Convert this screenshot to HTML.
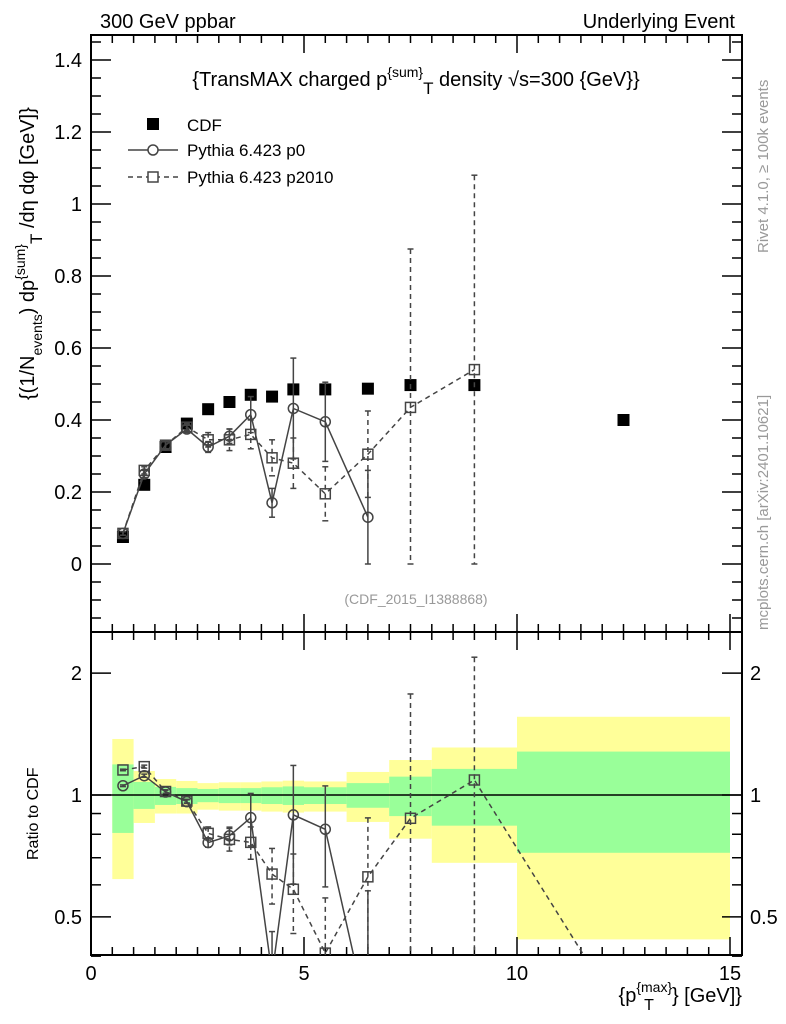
<!DOCTYPE html>
<html><head><meta charset="utf-8"><style>
html,body{margin:0;padding:0;background:#fff;overflow:hidden;width:786px;height:1024px}
svg{display:block;overflow:hidden}
svg text{font-family:"Liberation Sans",sans-serif}
</style></head><body>
<svg id="c" width="786" height="1024" xmlns="http://www.w3.org/2000/svg"></svg>
<script>
const edges=[0.5,1,1.5,2,2.5,3,3.5,4,4.5,5,6,7,8,10,15];
const cdfX=[0.75,1.25,1.75,2.25,2.75,3.25,3.75,4.25,4.75,5.5,6.5,7.5,9,12.5];
const cdfY=[0.075,0.22,0.325,0.39,0.43,0.45,0.47,0.465,0.485,0.485,0.487,0.497,0.497,0.40];
const p0Y=[0.085,0.25,0.33,0.375,0.325,0.355,0.415,0.17,0.432,0.395,0.13];
const p0Err=[0.005,0.01,0.01,0.01,0.015,0.02,0.05,0.04,0.14,0.11,0.13];
const p2Y=[0.085,0.26,0.33,0.38,0.345,0.345,0.36,0.295,0.28,0.195,0.305,0.435,0.54];
const p2Err=[0.005,0.01,0.01,0.01,0.02,0.03,0.04,0.05,0.07,0.075,0.12,0.44,0.54];
const r0=[1.054,1.116,1.017,0.963,0.763,0.793,0.879,0.36,0.893,0.823,0.28];
const r0Err=[0.005,0.01,0.01,0.01,0.02,0.04,0.13,0.1,0.29,0.23,0.3];
const r2=[1.153,1.175,1.02,0.966,0.804,0.777,0.764,0.638,0.585,0.407,0.628,0.876,1.089,0.28];
const r2Err=[0.005,0.01,0.01,0.01,0.03,0.05,0.07,0.1,0.13,0.15,0.25,0.9,1.1,0];
const yelHi=[1.375,1.146,1.095,1.083,1.07,1.075,1.075,1.08,1.085,1.08,1.14,1.22,1.31,1.56];
const yelLo=[0.62,0.853,0.90,0.90,0.92,0.915,0.915,0.91,0.905,0.91,0.858,0.78,0.68,0.44];
const grnHi=[1.19,1.077,1.047,1.04,1.035,1.04,1.04,1.045,1.05,1.045,1.07,1.11,1.16,1.28];
const grnLo=[0.806,0.924,0.945,0.95,0.96,0.955,0.955,0.95,0.945,0.95,0.93,0.887,0.84,0.72];
const mainTicks=[0,0.2,0.4,0.6,0.8,1,1.2,1.4];
const xTicks=[0,5,10,15];
const rTicks=[0.5,1,2];

const S=document.getElementById('c'),NS='http://www.w3.org/2000/svg';
function el(t,a,p){const e=document.createElementNS(NS,t);for(const k in a)e.setAttribute(k,a[k]);(p||S).appendChild(e);return e;}
const L=91,R=742,T=35,M=632,B=955;
const X=v=>L+v*(730-L)/15;
const Y=v=>564-v*360;
const RY=v=>795-Math.log10(v)*405;

const gB=el('g',{});
for(let i=0;i<edges.length-1;i++){
 const r=el('rect',{x:X(edges[i]),y:RY(yelHi[i]),width:X(edges[i+1])-X(edges[i]),height:RY(yelLo[i])-RY(yelHi[i]),fill:'#ffff99'},gB);
 
 const g=el('rect',{x:X(edges[i]),y:RY(grnHi[i]),width:X(edges[i+1])-X(edges[i]),height:RY(grnLo[i])-RY(grnHi[i]),fill:'#99ff99'},gB);
 
}
el('line',{x1:L,x2:R,y1:RY(1),y2:RY(1),stroke:'#000','stroke-width':1.5});

el('rect',{x:L,y:T,width:R-L,height:M-T,fill:'none',stroke:'#000','stroke-width':2});
el('rect',{x:L,y:M,width:R-L,height:B-M,fill:'none',stroke:'#000','stroke-width':2});

function txt(x,y,s,o){const t=el('text',Object.assign({x:x,y:y,'font-size':20},o||{}));t.innerHTML=s;return t;}
for(let v=-0.15;v<=1.46;v+=0.05){const vv=Math.round(v*100)/100;const maj=Math.abs(vv*5-Math.round(vv*5))<1e-6;const len=maj?20:10;
 el('line',{x1:L,x2:L+len,y1:Y(vv),y2:Y(vv),stroke:'#000','stroke-width':1.5});
 el('line',{x1:R,x2:R-len,y1:Y(vv),y2:Y(vv),stroke:'#000','stroke-width':1.5});}
mainTicks.forEach(v=>{const t=txt(82,Y(v)+7,String(v),{'text-anchor':'end'});});
for(let v=0;v<=15.2;v+=0.5){const maj=Math.abs(v%5)<1e-6;const len=maj?18:8;
 el('line',{x1:X(v),x2:X(v),y1:B,y2:B-len,stroke:'#000','stroke-width':1.5});
 el('line',{x1:X(v),x2:X(v),y1:M,y2:M-len,stroke:'#000','stroke-width':1.5});
 el('line',{x1:X(v),x2:X(v),y1:M,y2:M+len,stroke:'#000','stroke-width':1.5});
 el('line',{x1:X(v),x2:X(v),y1:T,y2:T+len,stroke:'#000','stroke-width':1.5});}
xTicks.forEach(v=>{const t=txt(X(v),980,String(v),{'text-anchor':'middle'});});
[0.4,0.5,0.6,0.7,0.8,0.9,1,2].forEach(v=>{const maj=rTicks.includes(v);const len=maj?20:10;
 el('line',{x1:L,x2:L+len,y1:RY(v),y2:RY(v),stroke:'#000','stroke-width':1.5});
 el('line',{x1:R,x2:R-len,y1:RY(v),y2:RY(v),stroke:'#000','stroke-width':1.5});});
rTicks.forEach(v=>{const t=txt(82,RY(v)+7,String(v),{'text-anchor':'end'});
 const t2=txt(750,RY(v)+7,String(v));});

const defs=el('defs',{});
const c1=el('clipPath',{id:'cm'},defs);el('rect',{x:L,y:T,width:R-L,height:M-T},c1);
const c2=el('clipPath',{id:'cr'},defs);el('rect',{x:L,y:M,width:R-L,height:B-M},c2);

function series(xs,ys,errs,yf,clip,dash,marker,name,minLo){
 const g=el('g',{'clip-path':'url(#'+clip+')'});
 const pts=ys.map((v,i)=>X(xs[i])+','+yf(v)).join(' ');
 el('polyline',{points:pts,fill:'none',stroke:'#444','stroke-width':1.5,'stroke-dasharray':dash?'5,4':'none'},g);
 ys.forEach((v,i)=>{const x=X(xs[i]);
  if(errs&&errs[i]>0){const lo=Math.max(v-errs[i],minLo);
   el('line',{x1:x,x2:x,y1:yf(v+errs[i]),y2:yf(lo),stroke:'#444','stroke-width':1.5,'stroke-dasharray':dash?'5,4':'none'},g);
   [yf(v+errs[i]),yf(lo)].forEach(yy=>el('line',{x1:x-3,x2:x+3,y1:yy,y2:yy,stroke:'#444','stroke-width':1.5},g));}
  const m=marker=='o'?el('circle',{cx:x,cy:yf(v),r:5,fill:'none',stroke:'#444','stroke-width':1.5},g):
   el('rect',{x:x-5,y:yf(v)-5,width:10,height:10,fill:'none',stroke:'#444','stroke-width':1.5},g);
  });
}
const gc=el('g',{});
cdfX.forEach((x,i)=>{const r=el('rect',{x:X(x)-6,y:Y(cdfY[i])-6,width:12,height:12,fill:'#000'},gc);});
series(cdfX,p2Y,p2Err,Y,'cm',true,'s','pythia-p2010',0);
series(cdfX,p0Y,p0Err,Y,'cm',false,'o','pythia-p0',0);
series(cdfX,r2,r2Err,RY,'cr',true,'s','ratio-p2010',0.3);
series(cdfX,r0,r0Err,RY,'cr',false,'o','ratio-p0',0.3);

const lg=el('g',{});
el('rect',{x:147,y:118,width:12,height:12,fill:'#000'},lg);
txt(187,131,'CDF',{'font-size':17},lg);
el('line',{x1:128,x2:178,y1:150,y2:150,stroke:'#444','stroke-width':1.5},lg);
el('circle',{cx:153,cy:150,r:5,fill:'#fff',stroke:'#444','stroke-width':1.5},lg);
txt(187,156,'Pythia 6.423 p0',{'font-size':17},lg);
el('line',{x1:128,x2:178,y1:177,y2:177,stroke:'#444','stroke-width':1.5,'stroke-dasharray':'5,4'},lg);
el('rect',{x:148,y:172,width:10,height:10,fill:'#fff',stroke:'#444','stroke-width':1.5},lg);
txt(187,183,'Pythia 6.423 p2010',{'font-size':17},lg);

let t;
t=txt(100,28,'300 GeV ppbar');
t=txt(735,28,'Underlying Event',{'text-anchor':'end'});
t=txt(416,86,'{TransMAX charged p<tspan dy="-9" font-size="14">{sum}</tspan><tspan dy="17" font-size="17">T</tspan><tspan dy="-8"> density √s=300 {GeV}}</tspan>',{'text-anchor':'middle'});
t=txt(416,604,'(CDF_2015_I1388868)',{'text-anchor':'middle','font-size':14,fill:'#999'});
t=txt(0,0,'{(1/N<tspan dy="8" font-size="14">events</tspan><tspan dy="-8">) dp</tspan><tspan dy="-9" font-size="14">{sum}</tspan><tspan dy="17" font-size="17">T</tspan><tspan dy="-8"> /dη  dφ [GeV]}</tspan>',{transform:'translate(34,400) rotate(-90)'});
t=txt(0,0,'Ratio to CDF',{transform:'translate(38,860) rotate(-90)','font-size':16});
t=txt(0,0,'Rivet 4.1.0, ≥ 100k events',{transform:'translate(768,253) rotate(-90)','font-size':15,fill:'#999'});
t=txt(0,0,'mcplots.cern.ch [arXiv:2401.10621]',{transform:'translate(768,630) rotate(-90)','font-size':15,fill:'#999'});
t=txt(742,1002,'{p<tspan dy="-10" font-size="14">{max}</tspan><tspan dx="-28" dy="18" font-size="16">T</tspan><tspan dx="18" dy="-8">} [GeV]}</tspan>',{'text-anchor':'end'});
</script>
</body></html>
